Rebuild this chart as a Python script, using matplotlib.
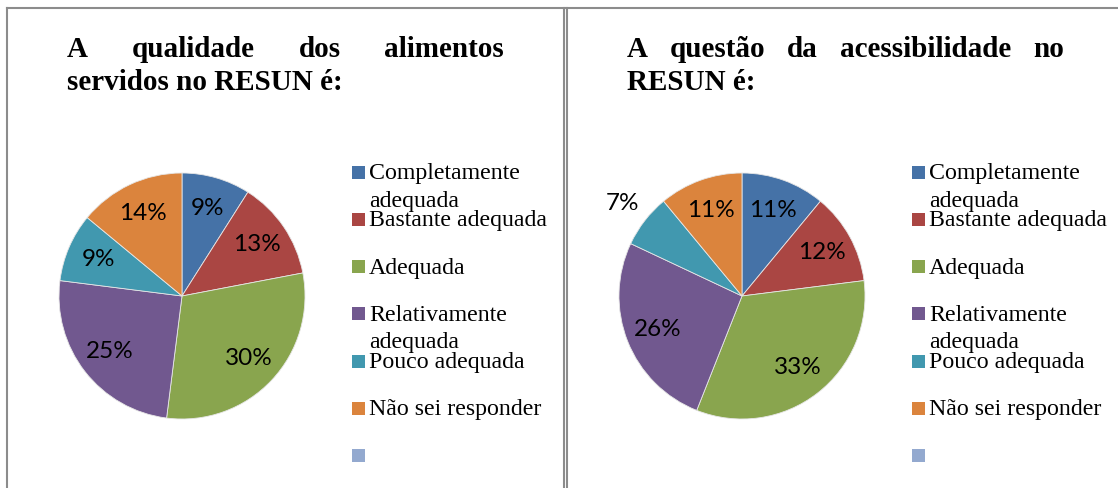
import matplotlib
matplotlib.use("Agg")
import numpy as np
import matplotlib.pyplot as plt
from matplotlib.patches import Rectangle
from matplotlib.lines import Line2D

# data
categories = ["Completamente\nadequada", "Bastante adequada", "Adequada",
              "Relativamente\nadequada", "Pouco adequada", "Não sei responder", ""]
colors = ["#4572A7", "#AA4643", "#89A54E", "#71588F", "#4198AF", "#DB843D", "#93A9CF"]

title_left = ["A qualidade dos alimentos", "servidos no RESUN é:"]
values_left = [9, 13, 30, 25, 9, 14]

title_right = ["A questão da acessibilidade no", "RESUN é:"]
values_right = [11, 12, 33, 26, 7, 11]

W, H = 1118, 488
fig = plt.figure(figsize=(W / 100, H / 100), dpi=100)
fig.patch.set_facecolor("white")


def fx(px):
    return px / W


def fy(py):
    return 1 - py / H


renderer = fig.canvas.get_renderer()


def justified(words, x0, x1, y, **kw):
    ts = [fig.text(0, fy(y), w, va="baseline", **kw) for w in words]
    widths = [t.get_window_extent(renderer).width for t in ts]
    gap = (x1 - x0 - sum(widths)) / (len(words) - 1)
    x = x0
    for t, w in zip(ts, widths):
        t.set_x(fx(x))
        x += w + gap


def vline(x, y0, y1):
    fig.add_artist(Line2D([fx(x), fx(x)], [fy(y0), fy(y1)], color="#8c8c8c",
                          lw=1.5, transform=fig.transFigure))


def panel(x0, values, title, legend_x, right_edge=None):
    # border
    vline(x0, 8, 500)
    if right_edge is not None:
        vline(right_edge, 8, 500)
    fig.add_artist(Line2D([fx(x0), fx(x0 + 558)], [fy(8), fy(8)], color="#8c8c8c",
                          lw=1.5, transform=fig.transFigure))

    tkw = dict(family="Liberation Serif", fontweight="bold", fontsize=21)
    justified(title[0].split(), x0 + 60, x0 + 497, 57, **tkw)
    fig.text(fx(x0 + 60), fy(90), title[1], va="baseline", **tkw)

    # pie
    cx, cy, r = x0 + 175, 296, 123
    ax = fig.add_axes([fx(cx - r), fy(cy + r), 2 * r / W, 2 * r / H])
    wedges, texts, autotexts = ax.pie(
        values, colors=colors[:len(values)], startangle=90, counterclock=False,
        autopct="%d%%", pctdistance=0.74,
        wedgeprops=dict(edgecolor="#e6e6e6", linewidth=0.6),
        textprops=dict(family="Lato", fontsize=17.5, color="black"))
    for v, w, t in zip(values, wedges, autotexts):
        if v < 8:
            ang = np.deg2rad((w.theta1 + w.theta2) / 2)
            t.set_position((1.23 * np.cos(ang), 1.23 * np.sin(ang)))
    ax.set_xlim(-1, 1)
    ax.set_ylim(-1, 1)
    ax.set_aspect("equal")
    ax.axis("off")

    # legend
    for i, (lab, c) in enumerate(zip(categories, colors)):
        yc = 172 + i * 47.3
        fig.add_artist(Rectangle((fx(legend_x), fy(yc + 6.5)), 13 / W, 13 / H,
                                 facecolor=c, edgecolor="none",
                                 transform=fig.transFigure))
        for j, line in enumerate(lab.split("\n")):
            fig.text(fx(legend_x + 17), fy(yc + 7 + j * 27.5), line, va="baseline",
                     family="Liberation Serif", fontsize=17.2)


panel(7, values_left, title_left, 352, right_edge=564.5)
panel(567, values_right, title_right, 912)

fig.savefig("out.png", dpi=100)
